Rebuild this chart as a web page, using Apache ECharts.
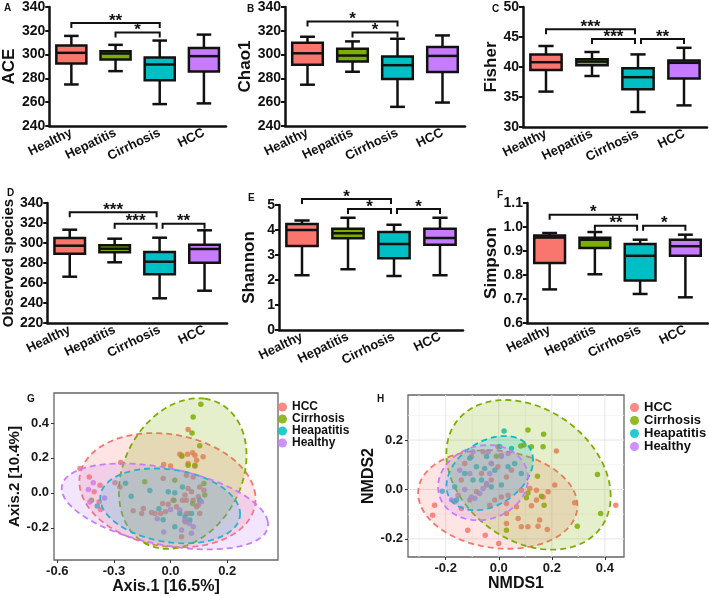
<!DOCTYPE html>
<html><head><meta charset="utf-8">
<script src="https://cdn.jsdelivr.net/npm/echarts@6/dist/echarts.min.js"></script>
<style>html,body{margin:0;padding:0;background:#fff}#c{width:709px;height:596px}</style>
</head><body><div id="c"></div>
<script>
// ---------- DATA ----------
const groups = ['Healthy','Hepatitis','Cirrhosis','HCC'];
const boxColors = ['#F8766D','#7CAE00','#00BFC4','#C77CFF'];
// each row: [min, q1, median, q3, max]
const aceBox = [[274.9,292.5,301.5,307.6,315.7],[286.1,295.9,300.9,302.8,308.2],[258.4,278.5,291.7,297.5,311.8],[259.0,285.8,298.7,305.6,316.8]];
const chao1Box = [[274.7,291.4,301.1,310.0,315.0],[285.6,294.2,299.2,305.0,311.1],[256.1,279.4,291.1,298.3,313.3],[259.7,285.3,298.9,306.4,316.1]];
const fisherBox = [[35.9,39.5,40.8,42.1,43.5],[38.5,40.3,40.9,41.3,42.5],[32.5,36.3,38.3,39.8,42.1],[33.6,38.1,40.7,41.1,43.2]];
const observedBox = [[266.3,289.3,297.3,305.0,313.3],[280.7,290.7,294.3,297.7,304.3],[244.7,268.7,281.3,291.0,305.3],[252.3,280.3,294.0,298.3,312.7]];
const shannonBox = [[2.19,3.36,4.00,4.24,4.38],[2.43,3.67,3.87,4.05,4.49],[2.16,2.87,3.44,3.92,4.21],[2.19,3.41,3.68,4.05,4.49]];
const simpsonBox = [[0.740,0.850,0.956,0.965,0.975],[0.803,0.912,0.947,0.955,0.979],[0.721,0.777,0.880,0.929,0.947],[0.707,0.880,0.920,0.947,0.968]];
// significance brackets: [fromGroup, toGroup, yValue]
const aceSig = [[0,2,326.6],[1,2,318.5]];
const aceSigLab = ['**','*'];
const chao1Sig = [[0,2,327.8],[1,2,318.6]];
const chao1SigLab = ['*','*'];
const fisherSig = [[0,2,46.3],[1,2,44.66],[2,3,44.66]];
const fisherSigLab = ['***','***','**'];
const observedSig = [[0,2,330.7],[1,2,319.3],[2,3,319.3]];
const observedSigLab = ['***','***','**'];
const shannonSig = [[0,2,5.24],[1,2,4.84],[2,3,4.84]];
const shannonSigLab = ['*','*','*'];
const simpsonSig = [[0,2,1.051],[1,2,1.005],[2,3,1.005]];
const simpsonSigLab = ['*','**','*'];

// ordination plots
const ordGroups = ['HCC','Cirrhosis','Heapatitis','Healthy'];
const ordColors = ['#F8766D','#7CAE00','#00BFC4','#C77CFF'];
const pcoaXTickValues = [-0.4,-0.2,0.0,0.2];
const pcoaXTickLabels = ['-0.6','-0.3','0.0','0.2'];
const pcoaYTickValues = [-0.2,0.0,0.2,0.4];
const nmdsXTickValues = [-0.2,0.0,0.2,0.4];
const nmdsYTickValues = [-0.2,0.0,0.2];
const nmdsXMinorGrid = [-0.3,-0.1,0.1,0.3];
const nmdsYMinorGrid = [-0.1,0.1,0.3];

const pcoaHCC = [[-0.320,0.139],[-0.287,0.091],[-0.249,0.044],[-0.252,-0.051],[-0.247,-0.095],[-0.270,0.006],[-0.196,0.057],[-0.179,0.034],[-0.176,0.173],[-0.132,-0.103],[-0.102,-0.118],[-0.067,-0.112],[-0.024,0.162],[0.000,0.154],[-0.026,0.082],[-0.028,-0.061],[-0.018,-0.109],[0.033,0.221],[0.060,0.221],[0.062,0.168],[0.086,0.215],[0.115,0.206],[0.092,0.187],[0.086,0.152],[0.056,0.101],[0.080,0.091],[0.062,0.025],[0.103,0.034],[0.118,0.015],[0.098,-0.023],[0.080,-0.042],[0.056,-0.042],[0.042,-0.042],[0.062,-0.118],[0.051,-0.166],[0.039,-0.251],[0.021,-0.080],[0.009,-0.042],[-0.008,-0.065],[-0.035,-0.118],[-0.055,-0.118],[-0.096,-0.090],[0.098,-0.070],[0.103,-0.118],[0.056,-0.118],[0.062,0.362],[0.078,0.229],[0.039,0.215],[0.092,-0.080],[0.074,0.006],[0.051,-0.013]];
const pcoaCirrhosis = [[0.107,0.507],[0.080,0.434],[0.076,0.343],[0.103,0.269],[0.040,0.210],[0.086,0.158],[0.062,0.158],[0.118,0.053],[0.121,-0.013],[-0.091,0.063],[0.015,0.072],[0.012,-0.042],[-0.279,-0.042],[0.078,-0.061]];
const pcoaHepatitis = [[-0.259,-0.076],[-0.159,0.055],[-0.139,-0.019],[-0.073,0.013],[-0.008,0.006],[0.015,0.000],[-0.041,-0.091],[-0.026,-0.154],[0.015,-0.194],[0.042,0.034],[0.051,-0.137],[0.074,-0.118],[0.068,-0.156],[0.033,-0.118],[0.103,-0.042]];
const pcoaHealthy = [[-0.273,0.057],[-0.290,0.019],[-0.285,-0.053],[-0.233,-0.030],[-0.047,-0.149],[-0.024,-0.225],[0.000,-0.095],[0.033,-0.099],[0.039,-0.213],[0.066,-0.175],[0.080,-0.194],[0.074,-0.232],[0.109,-0.051],[0.051,-0.156]];

const nmdsHCC = [[-0.242,-0.064],[-0.249,-0.104],[-0.117,-0.165],[-0.051,-0.185],[0.000,-0.219],[0.029,-0.097],[0.073,-0.118],[0.085,-0.151],[0.029,-0.138],[0.123,-0.066],[0.142,-0.003],[0.186,-0.009],[0.211,0.018],[0.117,0.004],[0.142,-0.043],[0.167,-0.030],[0.154,-0.124],[0.110,-0.151],[0.067,-0.070],[0.029,-0.057],[0.035,-0.023],[0.217,0.156],[0.441,-0.064],[0.286,-0.054],[-0.166,-0.050],[-0.141,-0.077],[-0.109,-0.043],[-0.153,-0.023],[-0.084,-0.009],[-0.046,0.018],[-0.028,0.038],[-0.015,-0.043],[0.010,-0.030],[-0.034,-0.064],[0.148,-0.149],[0.183,-0.162],[-0.103,0.133],[-0.059,0.153],[-0.003,0.092],[0.029,0.051],[-0.065,0.065],[-0.003,0.173],[0.010,0.139],[0.048,0.078],[-0.128,0.105],[-0.141,0.038],[0.085,-0.003]];
const nmdsCirrhosis = [[0.110,0.241],[0.169,0.224],[0.095,0.180],[0.123,0.173],[0.167,0.173],[0.372,0.061],[0.384,-0.097],[0.296,-0.149],[0.029,-0.165],[0.146,0.054],[0.110,-0.014],[0.161,-0.027],[0.171,-0.064],[0.104,-0.034],[-0.009,0.135],[-0.028,0.105],[0.083,0.176]];
const nmdsHepatitis = [[0.020,0.237],[-0.128,0.065],[-0.097,0.038],[-0.065,0.038],[-0.028,0.011],[0.010,0.018],[-0.084,0.092],[-0.053,0.085],[-0.015,0.078],[0.035,0.092],[0.060,0.105],[0.085,0.065],[-0.109,0.126],[-0.046,0.133],[-0.213,-0.007],[-0.166,0.011],[-0.159,-0.043],[0.048,0.166],[0.004,0.173]];
const nmdsHealthy = [[-0.128,0.000],[-0.103,-0.030],[-0.090,-0.037],[-0.059,0.004],[-0.046,0.024],[-0.034,0.065],[-0.028,0.105],[-0.109,0.065],[-0.147,0.078],[0.010,0.133],[0.035,0.146],[-0.178,-0.043],[-0.097,0.153],[-0.040,0.153],[-0.072,-0.016]];

// confidence ellipses: [cx, cy, ux, uy, vx, vy] (centre + two conjugate semi-diameters)
const pcoaEllipses = [[-0.011,0.015,0.3104,-0.0286,-0.0212,0.3257],[0.043,0.110,0.0776,0.4286,0.2116,-0.0457],[-0.0014,-0.0749,0.2469,-0.0514,0.0071,0.2080],[-0.020,-0.078,0.3633,-0.0857,-0.0282,0.2303]];
const nmdsEllipses = [[-0.0038,-0.0404,0.3002,-0.0256,0,0.1980],[0.1122,0.0592,0.3096,-0.0864,0,0.2905],[-0.0339,0.0661,0.1631,0.0515,0,0.1412],[-0.0591,0.0276,0.1695,0.0170,0,0.1513]];

// ---------- CHART ----------
const FONT = '"Liberation Sans", Arial, sans-serif';
const boxPanels = [
  {name:'ACE', box:aceBox, sig:aceSig, lab:aceSigLab, min:240, max:340, interval:20, dec:0},
  {name:'Chao1', box:chao1Box, sig:chao1Sig, lab:chao1SigLab, min:240, max:340, interval:20, dec:0},
  {name:'Fisher', box:fisherBox, sig:fisherSig, lab:fisherSigLab, min:30, max:50, interval:5, dec:0},
  {name:'Observed species', box:observedBox, sig:observedSig, lab:observedSigLab, min:220, max:340, interval:20, dec:0},
  {name:'Shannon', box:shannonBox, sig:shannonSig, lab:shannonSigLab, min:0, max:5, interval:1, dec:0},
  {name:'Simpson', box:simpsonBox, sig:simpsonSig, lab:simpsonSigLab, min:0.6, max:1.1, interval:0.1, dec:1}
];
const boxLayout = [
  {left:46, top:7, width:180, height:119, nameGap:27, nameSize:17},
  {left:285, top:7, width:180, height:119, nameGap:26, nameSize:17},
  {left:523, top:5, width:184, height:122, nameGap:20, nameSize:17},
  {left:46, top:203, width:181, height:120, nameGap:27, nameSize:15},
  {left:279, top:205, width:184, height:125, nameGap:21, nameSize:17},
  {left:527, top:203, width:181, height:120, nameGap:24, nameSize:17}
];
const panelLetters = [['A',4,3],['B',247,4],['C',492,4],['D',7,188],['E',248,193],['F',497,190],['G',27,394],['H',377,394]];

function hexA(h,a){const n=parseInt(h.slice(1),16);return 'rgba('+(n>>16)+','+((n>>8)&255)+','+(n&255)+','+a+')';}

const grids=[], xAxes=[], yAxes=[], series=[];
boxPanels.forEach((p,i)=>{
  const L=boxLayout[i];
  grids.push({left:L.left, top:L.top, width:L.width, height:L.height});
  xAxes.push({gridIndex:i, type:'category', data:groups,
    axisLine:{lineStyle:{color:'#111', width:2.5}},
    axisTick:{alignWithLabel:true, length:4, lineStyle:{color:'#111', width:2}},
    axisLabel:{interval:0, rotate:26, margin:6, color:'#111', fontWeight:'bold', fontSize:13, fontFamily:FONT},
    splitLine:{show:false}});
  yAxes.push({gridIndex:i, type:'value', min:p.min, max:p.max, interval:p.interval,
    name:p.name, nameLocation:'middle', nameGap:L.nameGap,
    nameTextStyle:{fontSize:L.nameSize, fontWeight:'bold', color:'#111', fontFamily:FONT},
    axisLine:{show:true, lineStyle:{color:'#111', width:2.5}},
    axisTick:{show:true, length:4, lineStyle:{color:'#111', width:2}},
    axisLabel:{margin:4, color:'#111', fontWeight:'bold', fontSize:14, fontFamily:FONT, formatter:v=>v.toFixed(p.dec)},
    splitLine:{show:false}});
  series.push({type:'custom', xAxisIndex:i, yAxisIndex:i, z:3,
    data:p.box.map((b,k)=>[k].concat(b)),
    renderItem:function(params, api){
      const k=params.dataIndex;
      const band=api.size([1,0])[0];
      const bw=band*0.68, cw=band*0.33;
      const lo=api.coord([k,api.value(1)]), q1=api.coord([k,api.value(2)]), md=api.coord([k,api.value(3)]), q3=api.coord([k,api.value(4)]), hi=api.coord([k,api.value(5)]);
      const x=lo[0]; const ls={stroke:'#111', lineWidth:2.5};
      return {type:'group', children:[
        {type:'line', shape:{x1:x,y1:hi[1],x2:x,y2:q3[1]}, style:ls},
        {type:'line', shape:{x1:x,y1:q1[1],x2:x,y2:lo[1]}, style:ls},
        {type:'line', shape:{x1:x-cw/2,y1:hi[1],x2:x+cw/2,y2:hi[1]}, style:ls},
        {type:'line', shape:{x1:x-cw/2,y1:lo[1],x2:x+cw/2,y2:lo[1]}, style:ls},
        {type:'rect', shape:{x:x-bw/2,y:q3[1],width:bw,height:q1[1]-q3[1]}, style:{fill:boxColors[k], stroke:'#111', lineWidth:2.5}},
        {type:'line', shape:{x1:x-bw/2,y1:md[1],x2:x+bw/2,y2:md[1]}, style:ls}
      ]};
    }});
  series.push({type:'custom', xAxisIndex:i, yAxisIndex:i, z:4, clip:false,
    data:p.sig,
    renderItem:function(params, api){
      const j=params.dataIndex;
      const from=api.value(0), to=api.value(1), yv=api.value(2);
      const a=api.coord([from,yv]), b=api.coord([to,yv]);
      let x1=a[0], x2=b[0]; const y=a[1];
      if(p.sig.some(s=>s[1]===from)) x1+=3;
      if(p.sig.some(s=>s[0]===to)) x2-=3;
      return {type:'group', children:[
        {type:'polyline', shape:{points:[[x1,y+5],[x1,y],[x2,y],[x2,y+5]]}, style:{stroke:'#111', lineWidth:2, fill:null}},
        {type:'text', x:(x1+x2)/2, y:y-2, style:{text:p.lab[j], font:'bold 17px '+FONT, fill:'#111', align:'center', verticalAlign:'middle', textAlign:'center', textVerticalAlign:'middle'}}
      ]};
    }});
});

function ordAxes(gi, xmin,xmax,ymin,ymax, xTicks, xFmt, yTicks, xName, yName, yNameGap, yNameSize){
  const lab={color:'#1a1a1a', fontWeight:'bold', fontSize:13, fontFamily:FONT, margin:5};
  xAxes.push({gridIndex:gi, type:'value', min:xmin, max:xmax, name:xName, nameLocation:'middle', nameGap:19,
    nameTextStyle:{fontSize:16, fontWeight:'bold', color:'#111', fontFamily:FONT},
    axisLine:{show:false, onZero:false}, splitLine:{show:false},
    axisTick:{show:true, length:3, customValues:xTicks, lineStyle:{color:'#333', width:1}},
    axisLabel:Object.assign({customValues:xTicks, formatter:xFmt}, lab)});
  yAxes.push({gridIndex:gi, type:'value', min:ymin, max:ymax, name:yName, nameLocation:'middle', nameGap:yNameGap,
    nameTextStyle:{fontSize:yNameSize, fontWeight:'bold', color:'#111', fontFamily:FONT},
    axisLine:{show:false, onZero:false}, splitLine:{show:false},
    axisTick:{show:true, length:3, customValues:yTicks, lineStyle:{color:'#333', width:1}},
    axisLabel:Object.assign({customValues:yTicks, formatter:v=>v.toFixed(1)}, lab)});
}
// G: PCoA
grids.push({left:54, top:393, width:224, height:167, show:true, borderColor:'#666', borderWidth:1.3, backgroundColor:'#fff'});
ordAxes(6, -0.4116, 0.3795, -0.3846, 0.5714, pcoaXTickValues,
  v=>{const k=pcoaXTickValues.findIndex(t=>Math.abs(t-v)<1e-6); return k>=0?pcoaXTickLabels[k]:'';},
  pcoaYTickValues, 'Axis.1 [16.5%]', 'Axis.2 [10.4%]', 32, 15);
// H: NMDS
grids.push({left:408, top:395, width:216, height:162, show:true, borderColor:'#666', borderWidth:1.3, backgroundColor:'#fff'});
ordAxes(7, -0.342, 0.472, -0.2734, 0.3825, nmdsXTickValues, v=>v.toFixed(1), nmdsYTickValues, 'NMDS1', 'NMDS2', 25, 16);

// NMDS grid lines
function gridLineSeries(vals, vertical, color, width){
  return {type:'custom', xAxisIndex:7, yAxisIndex:7, z:1, silent:true,
    data:vals.map(v=>[v]),
    renderItem:function(params, api){
      const cs=params.coordSys; const v=api.value(0);
      if(vertical){const x=api.coord([v,0])[0]; return {type:'line', shape:{x1:x,y1:cs.y,x2:x,y2:cs.y+cs.height}, style:{stroke:color, lineWidth:width}};}
      const y=api.coord([0,v])[1]; return {type:'line', shape:{x1:cs.x,y1:y,x2:cs.x+cs.width,y2:y}, style:{stroke:color, lineWidth:width}};
    }};
}
series.push(gridLineSeries(nmdsXMinorGrid, true, '#F2F2F2', 0.8));
series.push(gridLineSeries(nmdsYMinorGrid, false, '#F2F2F2', 0.8));
series.push(gridLineSeries(nmdsXTickValues, true, '#E6E6E6', 1));
series.push(gridLineSeries(nmdsYTickValues, false, '#E6E6E6', 1));

const pcoaPts=[pcoaHCC,pcoaCirrhosis,pcoaHepatitis,pcoaHealthy];
const nmdsPts=[nmdsHCC,nmdsCirrhosis,nmdsHepatitis,nmdsHealthy];
[[6,pcoaPts],[7,nmdsPts]].forEach(([gi,pts])=>{
  pts.forEach((d,k)=>series.push({type:'scatter', name:ordGroups[k], xAxisIndex:gi, yAxisIndex:gi, z:2,
    data:d, symbolSize:5.5, itemStyle:{color:ordColors[k], opacity:0.85}, silent:true}));
});
function ellipseSeries(gi, ells){
  return {type:'custom', xAxisIndex:gi, yAxisIndex:gi, z:3, silent:true, data:ells,
    renderItem:function(params, api){
      const cx=api.value(0), cy=api.value(1), ux=api.value(2), uy=api.value(3), vx=api.value(4), vy=api.value(5);
      const pts=[];
      for(let k=0;k<=120;k++){const t=k/120*2*Math.PI; pts.push(api.coord([cx+ux*Math.cos(t)+vx*Math.sin(t), cy+uy*Math.cos(t)+vy*Math.sin(t)]));}
      const c=ordColors[params.dataIndex];
      return {type:'polygon', shape:{points:pts}, style:{fill:hexA(c,0.2), stroke:c, lineWidth:1.8, lineDash:[6,4]}};
    }};
}
series.push(ellipseSeries(6, pcoaEllipses));
series.push(ellipseSeries(7, nmdsEllipses));

const legendBase={orient:'vertical', icon:'circle', itemWidth:9, itemHeight:9, padding:0, selectedMode:false, data:ordGroups};
const chart=echarts.init(document.getElementById('c'), null, {renderer:'canvas'});
chart.setOption({
  animation:false, backgroundColor:'#fff',
  grid:grids, xAxis:xAxes, yAxis:yAxes, series:series,
  legend:[
    Object.assign({left:278, top:401, itemGap:0, textStyle:{fontSize:12, fontWeight:'bold', color:'#111', fontFamily:FONT, lineHeight:12}}, legendBase),
    Object.assign({left:630, top:401, itemGap:0, textStyle:{fontSize:13, fontWeight:'bold', color:'#111', fontFamily:FONT, lineHeight:13}}, legendBase)
  ],
  graphic: panelLetters.map(l=>({type:'text', left:l[1], top:l[2], style:{text:l[0], font:'bold 10px '+FONT, fill:'#111'}}))
});
</script></body></html>
